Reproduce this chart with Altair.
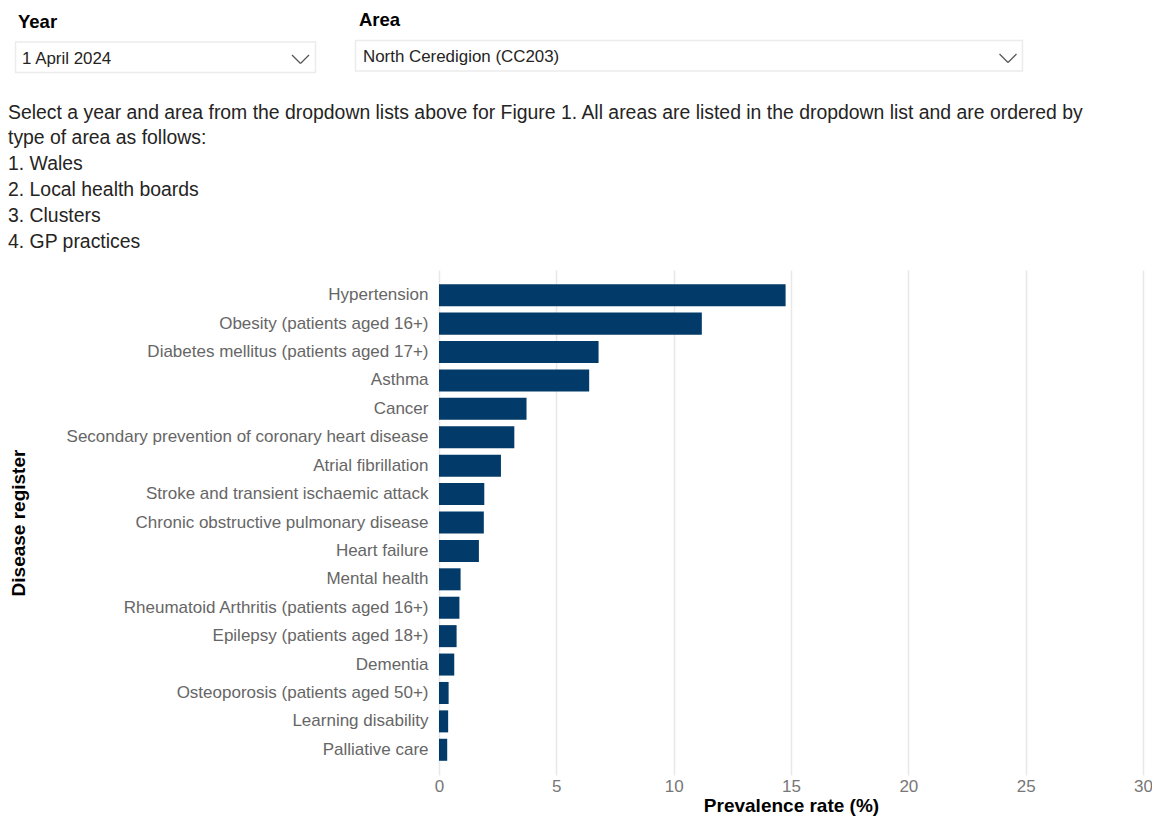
import altair as alt
import pandas as pd

# ---------------- data ----------------
diseases = [
    "Hypertension",
    "Obesity (patients aged 16+)",
    "Diabetes mellitus (patients aged 17+)",
    "Asthma",
    "Cancer",
    "Secondary prevention of coronary heart disease",
    "Atrial fibrillation",
    "Stroke and transient ischaemic attack",
    "Chronic obstructive pulmonary disease",
    "Heart failure",
    "Mental health",
    "Rheumatoid Arthritis (patients aged 16+)",
    "Epilepsy (patients aged 18+)",
    "Dementia",
    "Osteoporosis (patients aged 50+)",
    "Learning disability",
    "Palliative care",
]
rates = [14.77, 11.20, 6.80, 6.40, 3.73, 3.21, 2.64, 1.93, 1.91, 1.70,
         0.92, 0.87, 0.75, 0.65, 0.41, 0.39, 0.35]
x_ticks = [0, 5, 10, 15, 20, 25, 30]

x_title = "Prevalence rate (%)"
y_title = "Disease register"

year_label = "Year"
year_value = "1 April 2024"
area_label = "Area"
area_value = "North Ceredigion (CC203)"

intro_lines = [
    "Select a year and area from the dropdown lists above for Figure 1. All areas are listed in the dropdown list and are ordered by",
    "type of area as follows:",
    "1. Wales",
    "2. Local health boards",
    "3. Clusters",
    "4. GP practices",
]

FONT = "Liberation Sans"
BAR_COLOR = "#023B69"

# page position of the plot origin (top-left of plot area)
OX, OY = 439, 270


def px(x):
    return x - OX


def py(y):
    return y - OY


one = pd.DataFrame({"k": [0]})

df = pd.DataFrame({"disease": diseases, "rate": rates})

bars = alt.Chart(df).mark_bar(color=BAR_COLOR).encode(
    x=alt.X(
        "rate:Q",
        scale=alt.Scale(domain=[0, 30], nice=False),
        axis=alt.Axis(
            values=x_ticks,
            title=x_title,
            grid=True,
            gridColor="#E8E8E8",
            gridWidth=1.5,
            domain=False,
            ticks=False,
            labelFlush=False,
            labelFont=FONT,
            labelFontSize=17,
            labelColor="#777777",
            labelPadding=3,
            titleFont=FONT,
            titleFontSize=19,
            titleFontWeight="bold",
            titleColor="#000000",
            titlePadding=2,
        ),
    ),
    y=alt.Y(
        "disease:N",
        sort=diseases,
        scale=alt.Scale(paddingInner=0.225, paddingOuter=0.5),
        axis=alt.Axis(
            title=y_title,
            grid=False,
            domain=False,
            ticks=False,
            labelFont=FONT,
            labelFontSize=17,
            labelColor="#666666",
            labelPadding=11,
            labelLimit=500,
            titleFont=FONT,
            titleFontSize=19,
            titleFontWeight="bold",
            titleColor="#000000",
            titleX=px(18),
            titleBaseline="middle",
        ),
    ),
)

# ---------------- decoration: dropdown boxes ----------------
def box(x1, x2, y1, y2):
    return alt.Chart(one).mark_rect(
        fill="white", stroke="#ECECEC", strokeWidth=1.5
    ).encode(
        x=alt.value(px(x1)), x2=alt.value(px(x2)),
        y=alt.value(py(y1)), y2=alt.value(py(y2)),
    )


def seg(x1, y1, x2, y2):
    return alt.Chart(one).mark_rule(color="#555555", strokeWidth=1.3).encode(
        x=alt.value(px(x1)), x2=alt.value(px(x2)),
        y=alt.value(py(y1)), y2=alt.value(py(y2)),
    )


def label(txt, x, y, size, weight="normal", color="#252423"):
    return alt.Chart(one).mark_text(
        align="left", baseline="middle", font=FONT, fontSize=size,
        fontWeight=weight, color=color,
    ).encode(x=alt.value(px(x)), y=alt.value(py(y)), text=alt.value(txt))


year_box = box(15.5, 315.5, 42, 72.5)
area_box = box(355.5, 1022.5, 40.5, 71)

chev_year = [seg(292, 55, 300.5, 63.5), seg(300.5, 63.5, 309, 55)]
chev_area = [seg(999.5, 54, 1008, 62.5), seg(1008, 62.5, 1016.5, 54)]

year_lbl = label(year_label, 18, 22, 18.5, "bold", "#000000")
area_lbl = label(area_label, 359, 20, 18.5, "bold", "#000000")
year_val = label(year_value, 22, 59, 16.9)
area_val = label(area_value, 363, 57, 16.9)

intro = alt.Chart(one).mark_text(
    align="left", baseline="top", font=FONT, fontSize=19.4,
    lineHeight=25.8, color="#252423",
).encode(x=alt.value(px(8)), y=alt.value(py(103.5)), text=alt.value(intro_lines))

chart = alt.layer(
    bars, year_box, area_box, *chev_year, *chev_area,
    year_lbl, area_lbl, year_val, area_val, intro,
).properties(
    width=704,
    height=505,
    autosize=alt.AutoSizeParams(type="none"),
    padding={"left": OX - 8, "top": OY - 8, "right": 9, "bottom": 46},
).configure(background="white").configure_view(stroke=None)

chart.save("out.html", embed_options={"renderer": "svg", "actions": False})
